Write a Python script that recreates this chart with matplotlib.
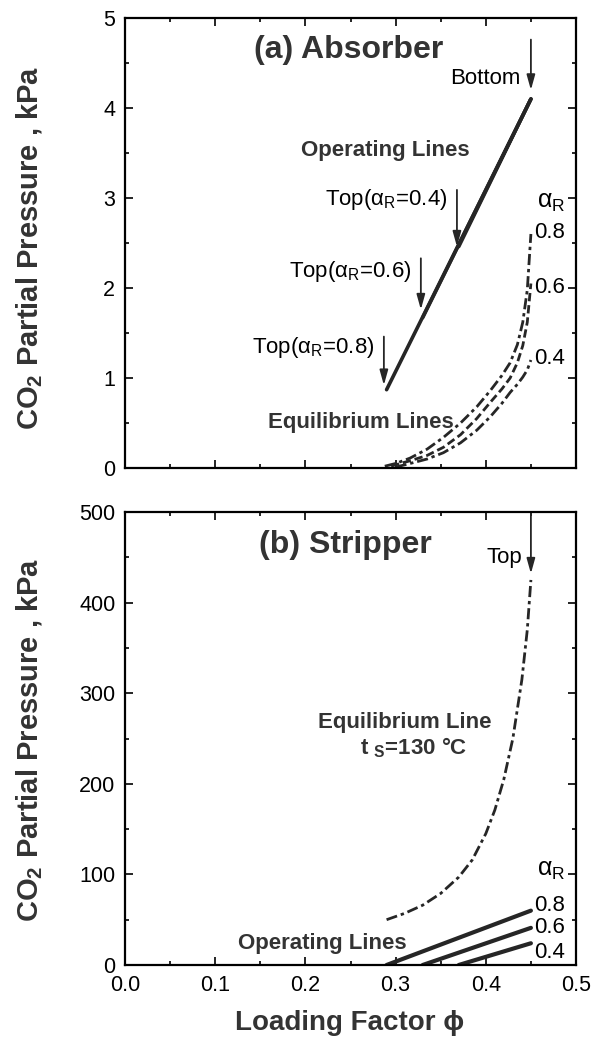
import matplotlib
matplotlib.use("Agg")
import matplotlib.pyplot as plt
from matplotlib.ticker import MultipleLocator

plt.rcParams['font.family'] = ['Liberation Sans', 'DejaVu Sans']
plt.rcParams['mathtext.fontset'] = 'custom'
plt.rcParams['mathtext.rm'] = 'Liberation Sans'
plt.rcParams['mathtext.it'] = 'Liberation Sans'
plt.rcParams['mathtext.bf'] = 'Liberation Sans:bold'

# ---- data ----
alpha_r = ['0.8', '0.6', '0.4']

# (a) absorber: operating lines share the bottom point, tops differ by alpha_R
abs_op_phi = [[0.45, 0.29], [0.45, 0.33], [0.45, 0.37]]
abs_op_p = [[4.10, 0.87], [4.10, 1.67], [4.10, 2.46]]

# (a) absorber equilibrium lines
abs_eq_phi_08 = [0.288, 0.30, 0.316, 0.335, 0.353, 0.372, 0.39, 0.405, 0.418, 0.427, 0.435, 0.441, 0.446, 0.45]
abs_eq_p_08 = [0.02, 0.05, 0.11, 0.21, 0.34, 0.50, 0.68, 0.86, 1.03, 1.17, 1.37, 1.62, 1.98, 2.60]
abs_eq_phi_06 = [0.295, 0.305, 0.316, 0.335, 0.353, 0.372, 0.39, 0.405, 0.418, 0.427, 0.435, 0.441, 0.446, 0.45]
abs_eq_p_06 = [0.02, 0.05, 0.08, 0.14, 0.23, 0.37, 0.55, 0.73, 0.88, 1.00, 1.17, 1.36, 1.62, 2.05]
abs_eq_phi_04 = [0.30, 0.316, 0.335, 0.353, 0.372, 0.39, 0.405, 0.418, 0.427, 0.435, 0.441, 0.446, 0.45]
abs_eq_p_04 = [0.01, 0.05, 0.10, 0.17, 0.28, 0.42, 0.57, 0.72, 0.84, 0.93, 1.01, 1.09, 1.20]

# (b) stripper equilibrium line, t_S = 130 C
str_eq_phi = [0.29, 0.31, 0.33, 0.35, 0.37, 0.385, 0.40, 0.41, 0.42, 0.43, 0.44, 0.446, 0.45]
str_eq_p = [50, 57, 66, 79, 97, 116, 145, 171, 205, 250, 315, 370, 425]

# (b) stripper operating lines
str_op_phi = [[0.29, 0.45], [0.33, 0.45], [0.37, 0.45]]
str_op_p = [[0, 60], [0, 41], [0, 24]]

W, H = 597, 1049
fig = plt.figure(figsize=(W / 100, H / 100), dpi=100)
ax1 = fig.add_axes([125 / W, 1 - 468 / H, 451 / W, 450 / H])
ax2 = fig.add_axes([125 / W, 1 - 965 / H, 451 / W, 453 / H])

bold_col = '0.2'
line_col = '0.15'

for ax in (ax1, ax2):
    ax.set_xlim(0, 0.5)
    ax.xaxis.set_major_locator(MultipleLocator(0.1))
    ax.xaxis.set_minor_locator(MultipleLocator(0.05))
    ax.tick_params(which='both', direction='in', top=True, right=True, width=1.2)
    ax.tick_params(which='major', length=6, labelsize=15.5, pad=7)
    ax.tick_params(which='minor', length=3)
    for s in ax.spines.values():
        s.set_linewidth(1.6)

dashdot = (0, (4, 1.4, 1.2, 1.4))

# ---- (a) absorber ----
ax1.set_ylim(0, 5)
ax1.yaxis.set_major_locator(MultipleLocator(1))
ax1.yaxis.set_minor_locator(MultipleLocator(0.5))
ax1.tick_params(axis='x', labelbottom=False)

for xs, ys in zip(abs_op_phi, abs_op_p):
    ax1.plot(xs, ys, color=line_col, lw=2.6, solid_capstyle='round')

ax1.plot(abs_eq_phi_08, abs_eq_p_08, color=line_col, lw=2.0, ls=dashdot)
ax1.plot(abs_eq_phi_06, abs_eq_p_06, color=line_col, lw=2.0, ls=(0, (3, 1.4)))
ax1.plot(abs_eq_phi_04, abs_eq_p_04, color=line_col, lw=2.0, ls=dashdot)

arrow = dict(arrowstyle='-|>,head_width=0.25,head_length=0.9', color=line_col, lw=1.3, shrinkA=0, shrinkB=0)
ax1.annotate('', xy=(0.45, 4.2), xytext=(0.45, 4.76), arrowprops=arrow)
ax1.annotate('', xy=(0.368, 2.46), xytext=(0.368, 3.09), arrowprops=arrow)
ax1.annotate('', xy=(0.328, 1.76), xytext=(0.328, 2.33), arrowprops=arrow)
ax1.annotate('', xy=(0.287, 0.92), xytext=(0.287, 1.46), arrowprops=arrow)

ax1.text(0.438, 4.33, 'Bottom', fontsize=16, ha='right', va='center')
ax1.text(0.357, 2.98, r'Top($\alpha_\mathrm{R}$=0.4)', fontsize=16, ha='right', va='center')
ax1.text(0.318, 2.18, r'Top($\alpha_\mathrm{R}$=0.6)', fontsize=16, ha='right', va='center')
ax1.text(0.277, 1.34, r'Top($\alpha_\mathrm{R}$=0.8)', fontsize=16, ha='right', va='center')

ax1.text(0.248, 4.64, '(a) Absorber', fontsize=23, fontweight='bold', color=bold_col, ha='center', va='center')
ax1.text(0.289, 3.53, 'Operating Lines', fontsize=16, fontweight='bold', color=bold_col, ha='center', va='center')
ax1.text(0.262, 0.50, 'Equilibrium Lines', fontsize=16, fontweight='bold', color=bold_col, ha='center', va='center')

ax1.text(0.457, 2.95, r'$\alpha_\mathrm{R}$', fontsize=18, ha='left', va='center')
for lab, yv in zip(alpha_r, [2.62, 2.0, 1.22]):
    ax1.text(0.454, yv, lab, fontsize=16, ha='left', va='center')

# ---- (b) stripper ----
ax2.set_ylim(0, 500)
ax2.yaxis.set_major_locator(MultipleLocator(100))
ax2.yaxis.set_minor_locator(MultipleLocator(50))

ax2.plot(str_eq_phi, str_eq_p, color=line_col, lw=2.0, ls=dashdot)
for xs, ys in zip(str_op_phi, str_op_p):
    ax2.plot(xs, ys, color=line_col, lw=3.0, solid_capstyle='round')

ax2.annotate('', xy=(0.45, 432), xytext=(0.45, 498), arrowprops=arrow)
ax2.text(0.44, 450, 'Top', fontsize=16, ha='right', va='center')

ax2.text(0.244, 464, '(b) Stripper', fontsize=23, fontweight='bold', color=bold_col, ha='center', va='center')
ax2.text(0.31, 268, 'Equilibrium Line', fontsize=16, fontweight='bold', color=bold_col, ha='center', va='center')
ax2.text(0.32, 240, r't $_\mathbf{S}$=130 °C', fontsize=16, fontweight='bold', color=bold_col, ha='center', va='center')
ax2.text(0.219, 24, 'Operating Lines', fontsize=16, fontweight='bold', color=bold_col, ha='center', va='center')

ax2.text(0.457, 105, r'$\alpha_\mathrm{R}$', fontsize=18, ha='left', va='center')
for lab, yv in zip(alpha_r, [66, 41, 14]):
    ax2.text(0.454, yv, lab, fontsize=16, ha='left', va='center')

# ---- axis titles ----
ylab = r'CO$_\mathbf{2}$ Partial Pressure , kPa'
fig.text(30 / W, 1 - 248 / H, ylab, rotation=90, fontsize=21, fontweight='bold', color=bold_col, ha='center', va='center')
fig.text(30 / W, 1 - 740 / H, ylab, rotation=90, fontsize=21, fontweight='bold', color=bold_col, ha='center', va='center')
fig.text(350 / W, 1 - 1023 / H, 'Loading Factor ϕ', fontsize=20, fontweight='bold', color=bold_col, ha='center', va='center')

fig.savefig('out.png', dpi=100)
